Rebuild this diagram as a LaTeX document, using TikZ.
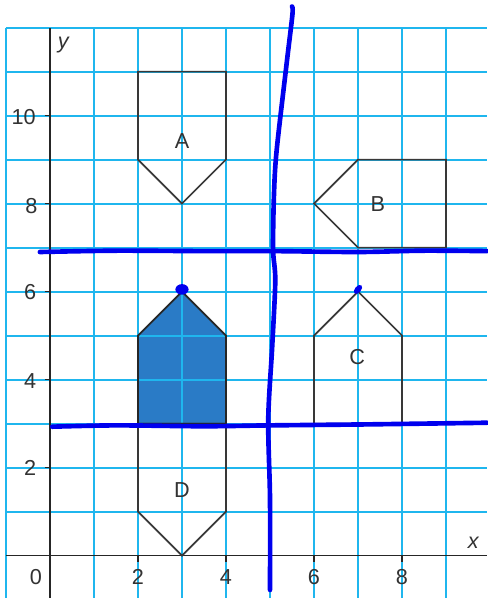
\documentclass[tikz,border=0pt]{standalone}
\usepackage{fontspec}
\setmainfont{Liberation Sans}
\begin{document}
\begin{tikzpicture}[
  gridline/.style={draw=gridcyan, line width=1.2pt},
  axis/.style={draw=black!85, line width=1.1pt},
  shapeline/.style={draw=black!78, line width=1.05pt, line join=miter},
  ticklbl/.style={font=\fontsize{14}{16}\selectfont, text=black!80, inner sep=0pt},
  figlbl/.style={font=\fontsize{14}{16}\selectfont, text=black!80, inner sep=0pt},
  pen/.style={draw=penblue, line width=3pt, line cap=round, line join=round},
]
\definecolor{gridcyan}{HTML}{1FB6EE}
\definecolor{penblue}{HTML}{0000EE}
\definecolor{figfill}{HTML}{2A7BC6}
\useasboundingbox (-1.136,-0.963) rectangle (9.932,12.627);
\fill[white] (-1.136,-0.963) rectangle (9.932,12.627);
% filled figure
\fill[figfill] (2,3) -- (2,5) -- (3,6) -- (4,5) -- (4,3) -- cycle;
% grid
\foreach \x in {-1,...,9} \draw[gridline] (\x,-0.963) -- (\x,12);
\foreach \y in {1,...,12} \draw[gridline] (-1,\y) -- (9.932,\y);
% axes
\draw[axis] (-1,0) -- (9.932,0);
\draw[axis] (0,-0.963) -- (0,12);
\foreach \y in {2,4,...,10} \draw[axis, line width=0.8pt] (-0.12,\y) -- (0,\y);
\foreach \x in {2,4,6,8} \draw[axis, line width=0.8pt] (\x,0) -- (\x,-0.15);
\node[ticklbl] (t10) at (-0.6,9.97) {10};
\node[ticklbl] (t8) at (-0.42,7.95) {8};
\node[ticklbl] (t6) at (-0.45,5.98) {6};
\node[ticklbl] (t4) at (-0.45,3.97) {4};
\node[ticklbl] (t2) at (-0.45,2.0) {2};
\node[ticklbl] (t0) at (-0.32,-0.48) {0};
\node[ticklbl] (x2) at (2,-0.48) {2};
\node[ticklbl] (x4) at (4,-0.48) {4};
\node[ticklbl] (x6) at (6,-0.48) {6};
\node[ticklbl] (x8) at (8,-0.48) {8};
\node[ticklbl, font=\fontsize{14}{16}\selectfont\itshape] (xl) at (9.62,0.3) {x};
\node[ticklbl, font=\fontsize{14}{16}\selectfont\itshape] (yl) at (0.3,11.6) {y};
% figures
\draw[shapeline] (2,9) -- (2,11) -- (4,11) -- (4,9) -- (3,8) -- cycle;
\draw[shapeline] (7,9) -- (9,9) -- (9,7) -- (7,7) -- (6,8) -- cycle;
\draw[shapeline] (6,3) -- (6,5) -- (7,6) -- (8,5) -- (8,3) -- cycle;
\draw[shapeline] (2,3) -- (2,1) -- (3,0) -- (4,1) -- (4,3) -- cycle;
\draw[shapeline, draw=black!85] (2,3) -- (2,5) -- (3,6) -- (4,5) -- (4,3) -- cycle;
\node[figlbl] (A) at (3,9.42) {A};
\node[figlbl] (B) at (7.45,8.0) {B};
\node[figlbl] (C) at (6.98,4.52) {C};
\node[figlbl] (D) at (3,1.5) {D};
% pen strokes
\draw[pen] plot[smooth] coordinates {(-0.23,6.9) (1.5,6.93) (3.5,6.92) (5.1,6.92) (7,6.9) (8.5,6.93) (9.932,6.92)};
\draw[pen] plot[smooth] coordinates {(0.05,2.93) (1.5,2.96) (3.5,2.94) (5,2.96) (7,2.98) (8.5,3.0) (9.932,3.02)};
\draw[pen] plot[smooth] coordinates {(5.5,12.48) (5.51,12.3) (5.38,11.2) (5.15,9.2) (5.09,8.2) (5.07,6.96) (5.12,6.25) (5.05,4.75) (4.96,3.1) (5.0,1.3) (5.0,-0.78)};
\fill[penblue] (3,6.05) ellipse [x radius=0.15, y radius=0.12];
\fill[penblue, rotate around={50:(7,6.05)}] (7,6.05) ellipse [x radius=0.12, y radius=0.07];
\end{tikzpicture}
\end{document}
